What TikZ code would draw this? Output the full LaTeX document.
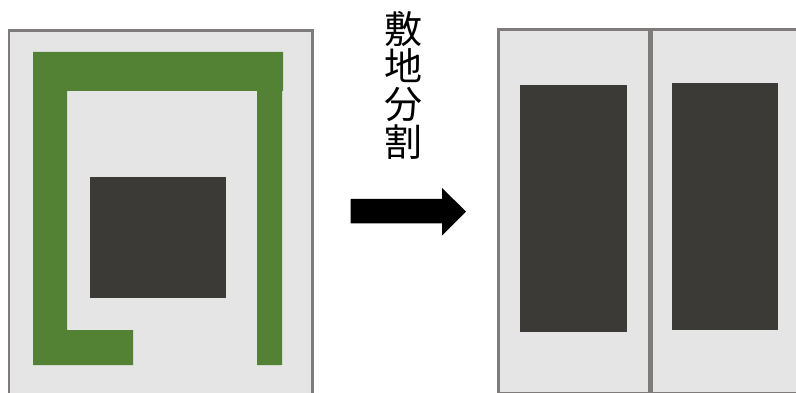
\documentclass[tikz,border=0pt]{standalone}
\usepackage{fontspec}
\newfontfamily\cjk{Noto Sans CJK JP}

\begin{document}
\begin{tikzpicture}[x=1pt,y=-1pt,
    lot/.style={draw=lotline,fill=lotfill,line width=2.2pt},
    building/.style={fill=buildingfill},
    road/.style={fill=roadfill}]
    \definecolor{lotline}{HTML}{7F7B7B}
    \definecolor{lotfill}{HTML}{E5E5E5}
    \definecolor{buildingfill}{HTML}{3B3A36}
    \definecolor{roadfill}{HTML}{548235}

    \useasboundingbox (0,0) rectangle (796,393);

    % left hand
    \draw[lot] (9,30.5) rectangle (312.5,400);
    \fill[road] (33,52) -- (283,52) -- (283,91) -- (282,91) -- (282,365) -- (257,365)
        -- (257,91) -- (67,91) -- (67,330) -- (133,330) -- (133,365) -- (33,365) -- cycle;
    \fill[building] (90,177) rectangle (226,298);

    % middle
    \node[font=\cjk\fontsize{38}{37.7}\selectfont,align=center,inner sep=0pt] (title) at (403,85)
        {敷\\地\\分\\割};
    \fill (350.7,199) -- (442,199) -- (442,188) -- (466,211.5) -- (442,235.5) -- (442,223.5)
        -- (350.7,223.5) -- cycle;

    % right hand
    \draw[lot] (498.5,29.5) rectangle (649.4,393.5);
    \draw[lot] (651.6,29.5) rectangle (810,393.5);
    \fill[building] (520,85) rectangle (627,332);
    \fill[building] (672,83) rectangle (778,330);
\end{tikzpicture}
\end{document}
